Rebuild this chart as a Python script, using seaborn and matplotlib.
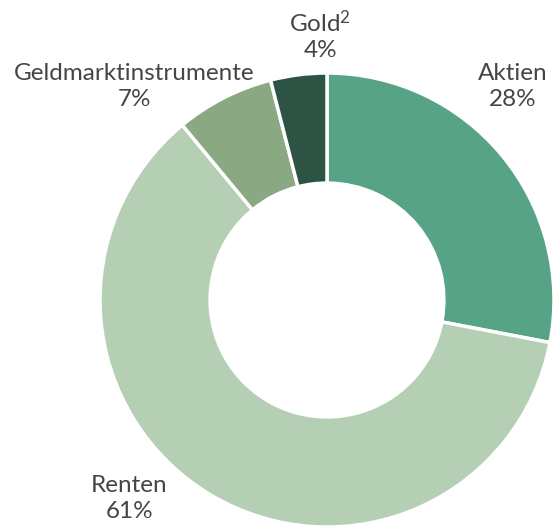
import matplotlib
matplotlib.use("Agg")
import matplotlib.pyplot as plt
import seaborn as sns

# Daten
categories = ["Aktien", "Renten", "Geldmarktinstrumente", "Gold$^{2}$"]
shares = [28, 61, 7, 4]
colors = ["#56a386", "#b5cfb5", "#8aa882", "#2d5345"]

# Label-Positionen (Daten-Koordinaten, Radius 1 = Aussenrand)
label_pos = {
    "Aktien": (0.82, 0.94),
    "Renten": (-0.87, -0.875),
    "Geldmarktinstrumente": (-0.85, 0.94),
    "Gold$^{2}$": (-0.03, 1.165),
}

sns.set_theme(style="white")
plt.rcParams["font.family"] = ["Lato", "DejaVu Sans"]
plt.rcParams["mathtext.fontset"] = "custom"
plt.rcParams["mathtext.rm"] = "Lato"
plt.rcParams["mathtext.it"] = "Lato"

fig = plt.figure(figsize=(5.54, 5.28), dpi=100)
ax = fig.add_axes([0, 0, 1, 1])

ax.pie(
    shares,
    colors=colors,
    startangle=90,
    counterclock=False,
    radius=1.0,
    wedgeprops=dict(width=0.485, edgecolor="white", linewidth=2.5),
)

for cat, val in zip(categories, shares):
    x, y = label_pos[cat]
    ax.text(x, y, f"{cat}\n{val}%", ha="center", va="center",
            fontsize=17.5, color="#454545", linespacing=1.25)

ax.set_xlim(-327 / 227, 227 / 227)
ax.set_ylim(-228 / 227, 300 / 227)
ax.set_aspect("auto")
ax.axis("off")

fig.savefig("out.png", dpi=100)
